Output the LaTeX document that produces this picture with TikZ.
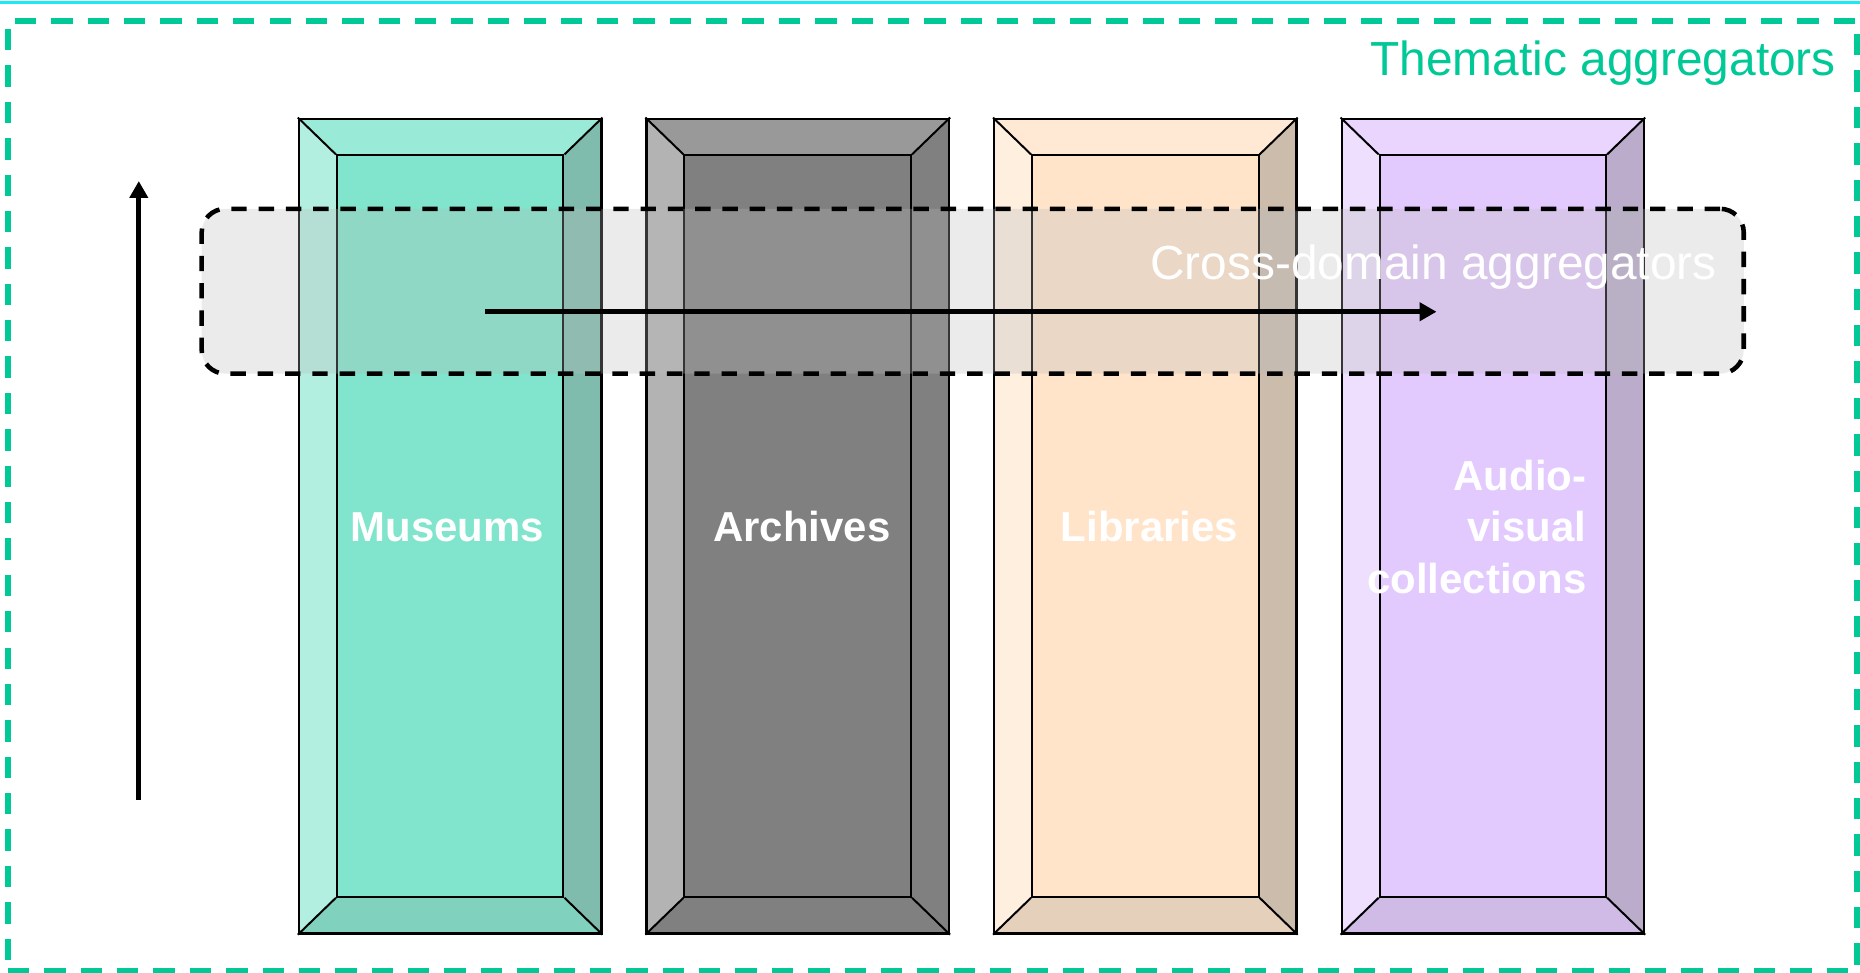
\documentclass[tikz,border=0pt]{standalone}
\usepackage{fontspec}
\setmainfont{Liberation Sans}
\usetikzlibrary{arrows.meta}
\definecolor{museumc}{HTML}{80E5CC}
\definecolor{archivec}{HTML}{808080}
\definecolor{libraryc}{HTML}{FFE4CA}
\definecolor{audioc}{HTML}{E3CAFE}
\definecolor{thematicc}{HTML}{00C896}
\definecolor{cyanline}{HTML}{1DE9F6}
\definecolor{crossfill}{HTML}{BABABA}
\begin{document}
\begin{tikzpicture}[x=0.6pt,y=-0.6pt,
  outerbox/.style={draw=black,line width=1.1pt,minimum width=153pt,minimum height=412.2pt,inner sep=0pt},
  innerbox/.style={draw=black,line width=1pt,minimum width=114.6pt,minimum height=375pt,inner sep=0pt},
  bevelline/.style={draw=black,line width=1pt},
  lbl/.style={text=white,font=\bfseries\fontsize{21.2}{26}\selectfont,inner sep=0pt},
  bigtext/.style={font=\fontsize{24.2}{29}\selectfont,inner sep=0pt},
  arrowline/.style={line width=2.5pt,-{Triangle[length=8.5pt,width=9pt]}},
  thematicbox/.style={draw=thematicc,line width=3pt,dash pattern=on 10.8pt off 7.6pt,minimum width=935.3pt,minimum height=480.5pt,inner sep=0pt},
  crossbox/.style={draw=black,line width=2.3pt,dash pattern=on 7.8pt off 6pt,rounded corners=12pt,fill=crossfill,fill opacity=0.29,minimum width=780pt,minimum height=83.4pt,inner sep=0pt}
  ]
\useasboundingbox (0,0) rectangle (1568,820);
% cyan top line
\coordinate (cl) at (0,2);
\coordinate (cr) at (1568,2);
\draw[cyanline,line width=1.2pt] (cl) -- (cr);
% thematic aggregators frame
\node[thematicbox] (thematic) at (786.1,418.1) {};
\node[bigtext,text=thematicc,anchor=base east] (thematiclbl) at (1548,64) {Thematic aggregators};
% bevel boxes
\foreach \x/\c/\n in {252/museumc/mus,545/archivec/arc,838/libraryc/lib,1131/audioc/aud}{
  \fill[fill=\c!80!white] (\x,100) -- (\x+255,100) -- (\x+223,131) -- (\x+32,131) -- cycle;
  \fill[fill=\c!60!white] (\x,100) -- (\x+32,131) -- (\x+32,756) -- (\x,787) -- cycle;
  \fill[fill=\c!60!gray] (\x+255,100) -- (\x+223,131) -- (\x+223,756) -- (\x+255,787) -- cycle;
  \fill[fill=\c!80!gray] (\x,787) -- (\x+32,756) -- (\x+223,756) -- (\x+255,787) -- cycle;
  \node[innerbox,fill=\c] (\n-in) at (\x+127.5,443.5) {};
  \node[outerbox] (\n) at (\x+127.5,443.5) {};
  \draw[bevelline] (\n.north west) -- (\n-in.north west);
  \draw[bevelline] (\n.north east) -- (\n-in.north east);
  \draw[bevelline] (\n.south west) -- (\n-in.south west);
  \draw[bevelline] (\n.south east) -- (\n-in.south east);
}
% labels
\node[lbl,anchor=base] (muslbl) at (377,456.7) {Museums};
\node[lbl,anchor=base] (arclbl) at (676,456.7) {Archives};
\node[lbl,anchor=base] (liblbl) at (969,456.7) {Libraries};
\node[lbl,anchor=east,align=right] (audlbl) at (1337.6,444) {Audio-\\visual\\collections};
% vertical arrow
\coordinate (vbot) at (117,674.4);
\coordinate (vtop) at (117,152.6);
\draw[arrowline] (vbot) -- (vtop);
% cross-domain aggregators
\node[crossbox] (cross) at (820,245.5) {};
\node[bigtext,text=white,anchor=base] (crosslbl) at (1208.5,236) {Cross-domain aggregators};
\coordinate (hs) at (409,262.8);
\coordinate (he) at (1211,262.8);
\draw[arrowline] (hs) -- (he);
\end{tikzpicture}
\end{document}
